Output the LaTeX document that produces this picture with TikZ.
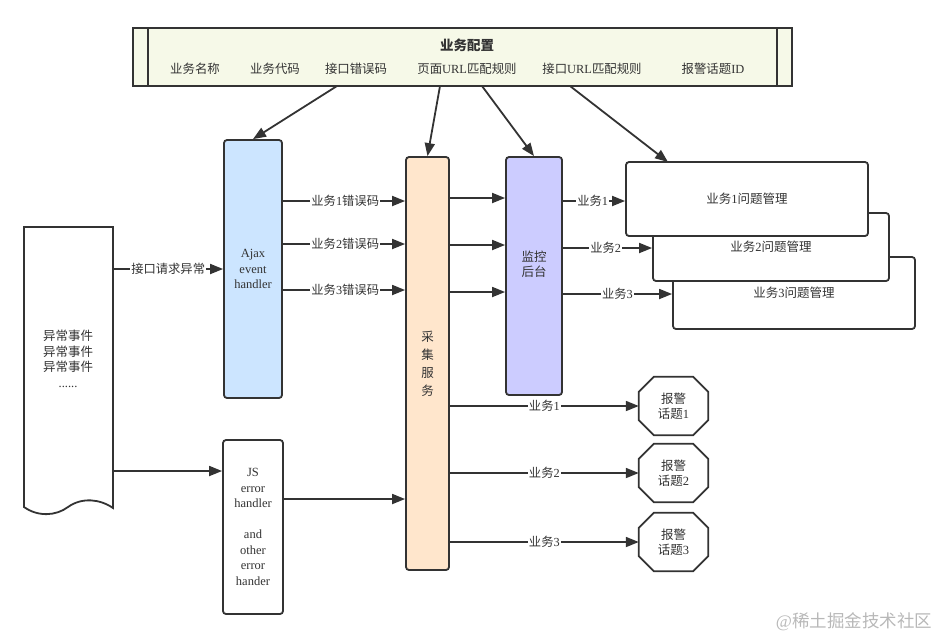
\documentclass[tikz,border=0pt]{standalone}
\usepackage{fontspec}
\setmainfont{Liberation Serif}
\newfontfamily\cjk{Noto Sans CJK SC}
\usetikzlibrary{arrows.meta,calc}
\newcommand\zh[1]{{\cjk #1}}
\definecolor{ln}{HTML}{333333}
\definecolor{txt}{HTML}{333333}
\definecolor{cfgfill}{HTML}{F6F9E8}
\definecolor{ajaxfill}{HTML}{CCE5FF}
\definecolor{cjfill}{HTML}{FFE6CC}
\definecolor{jkfill}{HTML}{CCCCFF}
\begin{document}
\begin{tikzpicture}[x=1pt,y=-1pt,
  every node/.style={text=txt},
  conn/.style={draw=ln, line width=1.8pt, -{Triangle[length=13pt,width=10pt]}},
  box/.style={draw=ln, line width=1.8pt, rounded corners=3pt, inner sep=0pt, align=center,
    font=\fontsize{12.5}{15.5}\selectfont},
  lbl/.style={fill=white, inner sep=1pt, font=\fontsize{12.3}{13}\selectfont},
  fld/.style={font=\fontsize{12.4}{14}\selectfont},
  octa/.style={draw=none, minimum width=69pt, minimum height=58pt, inner sep=0pt, align=center,
    font=\fontsize{12.5}{15.5}\selectfont}
]
\useasboundingbox (0,0) rectangle (941,641);

% configuration box
\node[box, rounded corners=0pt, fill=cfgfill, minimum width=659pt, minimum height=58pt] (cfg) at (462.5,57) {};
\draw[ln, line width=1.8pt] ($(cfg.north west)+(16,0)$) -- ($(cfg.south west)+(16,0)$);
\draw[ln, line width=1.8pt] ($(cfg.north east)+(-16,0)$) -- ($(cfg.south east)+(-16,0)$);
\node[font=\fontsize{13.5}{15}\selectfont] (cfgt) at (467,45) {\cjk\bfseries 业务配置};
\node[fld] (f1) at (195,69) {\zh{业务名称}};
\node[fld] (f2) at (275,69) {\zh{业务代码}};
\node[fld] (f3) at (356,69) {\zh{接口错误码}};
\node[fld] (f4) at (467,69) {\zh{页面}URL\zh{匹配规则}};
\node[fld] (f5) at (592,69) {\zh{接口}URL\zh{匹配规则}};
\node[fld] (f6) at (713,69) {\zh{报警话题}ID};

% document shape
\node[draw=none, minimum width=89pt, minimum height=281pt, inner sep=0pt] (doc) at (68.5,367.5) {};
\draw[ln, line width=1.8pt, fill=white] (24,227) -- (113,227) -- (113,508)
  .. controls (100,499) and (82,497) .. (68,507)
  .. controls (56,516) and (38,517) .. (24,507) -- cycle;
\node[align=center, font=\fontsize{12.5}{15.5}\selectfont] (doct) at (68,359)
  {\zh{异常事件}\\\zh{异常事件}\\\zh{异常事件}\\......};

% main boxes
\node[box, fill=ajaxfill, minimum width=58pt, minimum height=258pt] (ajax) at (253,269) {Ajax\\event\\handler};
\node[box, fill=white, minimum width=60pt, minimum height=174pt] (js) at (253,527)
  {JS\\error\\handler\\[15.5pt]and\\other\\error\\hander};
\node[box, fill=cjfill, minimum width=43pt, minimum height=413pt, font=\fontsize{12.5}{18}\selectfont] (cj) at (427.5,363.5)
  {\zh{采}\\\zh{集}\\\zh{服}\\\zh{务}};
\node[box, fill=jkfill, minimum width=56pt, minimum height=238pt] (jk) at (534,276) {};
\node[align=center, font=\fontsize{12.5}{15.5}\selectfont] (jkt) at (534,264) {\zh{监控}\\\zh{后台}};

% problem management boxes
\node[box, fill=white, minimum width=242pt, minimum height=72pt] (b3) at (794,293) {\zh{业务}3\zh{问题管理}};
\node[box, fill=white, minimum width=236pt, minimum height=68pt] (b2) at (771,247) {\zh{业务}2\zh{问题管理}};
\node[box, fill=white, minimum width=242pt, minimum height=74pt] (b1) at (747,199) {\zh{业务}1\zh{问题管理}};

% alarm octagons
\foreach \n/\yy in {1/406, 2/473, 3/542}{
  \node[octa] (o\n) at (673.5,\yy) {\zh{报警}\\\zh{话题}\n};
  \draw[ln, line width=1.8pt]
    ($(o\n.north west)+(15,0)$) -- ($(o\n.north east)+(-15,0)$) -- ($(o\n.north east)+(0,15)$)
    -- ($(o\n.south east)+(0,-15)$) -- ($(o\n.south east)+(-15,0)$) -- ($(o\n.south west)+(15,0)$)
    -- ($(o\n.south west)+(0,-15)$) -- ($(o\n.north west)+(0,15)$) -- cycle;
}

% y levels
\coordinate (ya) at (0,269);
\coordinate (yb) at (0,471);
\coordinate (y1) at (0,201);
\coordinate (y2) at (0,244);
\coordinate (y3) at (0,290);
\coordinate (yj) at (0,499);
\coordinate (z1) at (0,198);
\coordinate (z2) at (0,245);
\coordinate (z3) at (0,292);
\coordinate (w1) at (0,201);
\coordinate (w2) at (0,248);
\coordinate (w3) at (0,294);

% top arrows
\coordinate (c1) at (337,86);
\coordinate (c2) at (440,86);
\coordinate (c3) at (482,86);
\coordinate (c4) at (570,86);
\coordinate (c4t) at (668,162);
\draw[conn] (c1) -- (ajax.north);
\draw[conn] (c2) -- (cj.north);
\draw[conn] (c3) -- (jk.north);
\draw[conn] (c4) -- (c4t);

% doc -> handlers
\draw[conn] (doc.east |- ya) -- node[lbl]{\zh{接口请求异常}} (ajax.west |- ya);
\draw[conn] (doc.east |- yb) -- (js.west |- yb);

% ajax -> collect
\draw[conn] (ajax.east |- y1) -- node[lbl, pos=0.51]{\zh{业务}1\zh{错误码}} (cj.west |- y1);
\draw[conn] (ajax.east |- y2) -- node[lbl, pos=0.51]{\zh{业务}2\zh{错误码}} (cj.west |- y2);
\draw[conn] (ajax.east |- y3) -- node[lbl, pos=0.51]{\zh{业务}3\zh{错误码}} (cj.west |- y3);
\draw[conn] (js.east |- yj) -- (cj.west |- yj);

% collect -> monitor
\draw[conn] (cj.east |- z1) -- (jk.west |- z1);
\draw[conn] (cj.east |- z2) -- (jk.west |- z2);
\draw[conn] (cj.east |- z3) -- (jk.west |- z3);

% monitor -> problem boxes
\draw[conn] (jk.east |- w1) -- node[lbl, pos=0.48]{\zh{业务}1} (b1.west |- w1);
\draw[conn] (jk.east |- w2) -- node[lbl, pos=0.48]{\zh{业务}2} (b2.west |- w2);
\draw[conn] (jk.east |- w3) -- node[lbl, pos=0.5]{\zh{业务}3} (b3.west |- w3);

% collect -> alarms
\draw[conn] (cj.east |- o1.west) -- node[lbl]{\zh{业务}1} (o1.west);
\draw[conn] (cj.east |- o2.west) -- node[lbl]{\zh{业务}2} (o2.west);
\draw[conn] (cj.east |- o3.west) -- node[lbl]{\zh{业务}3} (o3.west);

% watermark
\node[text=black!28, font=\fontsize{17.5}{19}\selectfont] (wm) at (854,622) {@\zh{稀土掘金技术社区}};
\end{tikzpicture}
\end{document}
